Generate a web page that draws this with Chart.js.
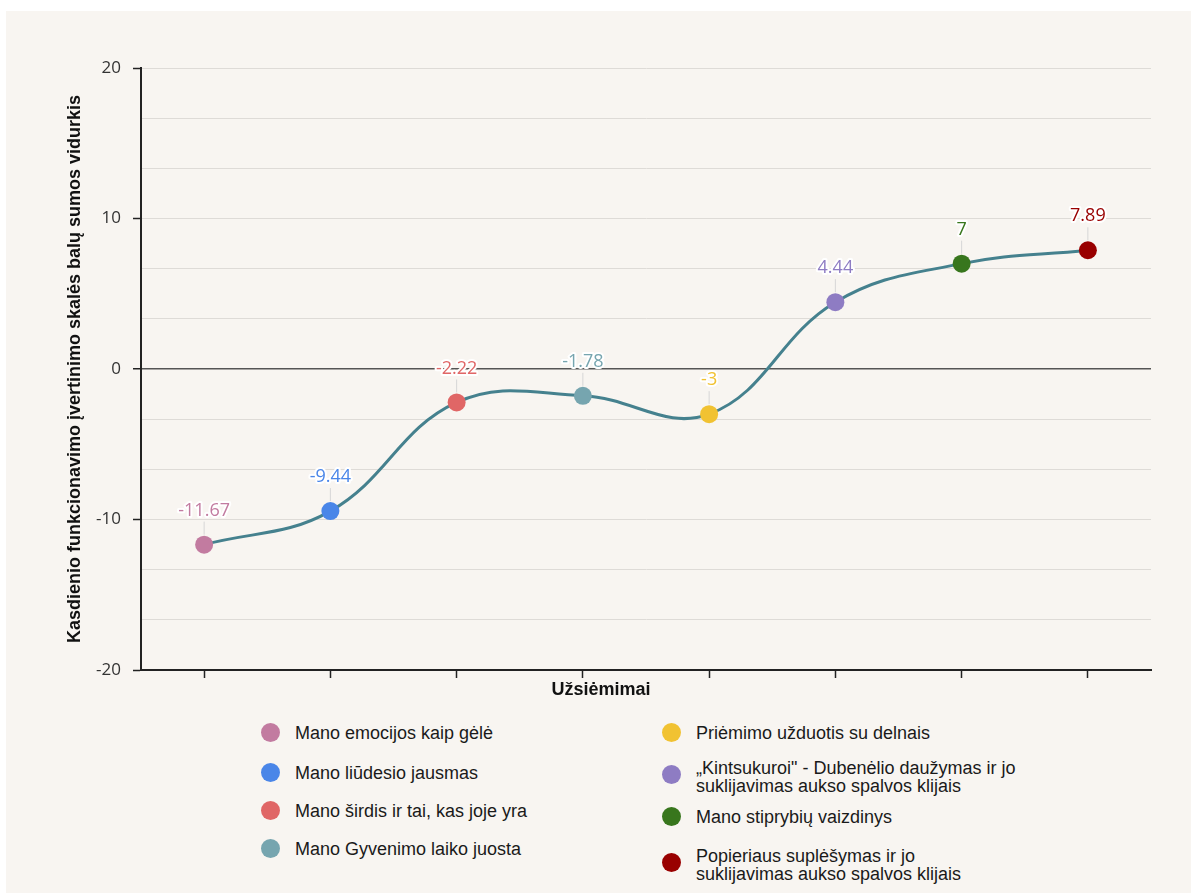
<!DOCTYPE html>
<html>
<head>
<meta charset="utf-8">
<script src="https://cdn.jsdelivr.net/npm/chart.js@4.4.1/dist/chart.umd.min.js"></script>
<style>
  html, body { margin: 0; padding: 0; background: #ffffff; }
  #panel {
    position: absolute; left: 6px; top: 11px; width: 1185px; height: 882px;
    background: #f8f5f1;
  }
  #chartBox { position: absolute; left: 0; top: 0; width: 1185px; height: 700px; }
  #xTitle {
    position: absolute; left: 525px; top: 668px; width: 140px; text-align: center;
    font: bold 18px "Liberation Sans", Arial, sans-serif; color: #111;
  }
  .legend-item {
    position: absolute; display: flex; align-items: flex-start;
    font: 18px "Liberation Sans", Arial, sans-serif; color: #1a1a1a; line-height: 18px;
  }
  .legend-item .dot {
    width: 19px; height: 19px; border-radius: 50%; flex: none; margin-right: 15px;
  }
</style>
</head>
<body>
<div id="panel">
  <div id="chartBox"><canvas id="lineChart"></canvas></div>
  <div id="xTitle">Užsiėmimai</div>
  <div id="legend"></div>
</div>
<script>
// Activities (x categories) and their mean scores
const activities = [
    'Mano emocijos kaip gėlė',
    'Mano liūdesio jausmas',
    'Mano širdis ir tai, kas joje yra',
    'Mano Gyvenimo laiko juosta',
    'Priėmimo užduotis su delnais',
    '„Kintsukuroi" - Dubenėlio daužymas ir jo suklijavimas aukso spalvos klijais',
    'Mano stiprybių vaizdinys',
    'Popieriaus suplėšymas ir jo suklijavimas aukso spalvos klijais'
];
const legendLines = [
    ['Mano emocijos kaip gėlė'],
    ['Mano liūdesio jausmas'],
    ['Mano širdis ir tai, kas joje yra'],
    ['Mano Gyvenimo laiko juosta'],
    ['Priėmimo užduotis su delnais'],
    ['„Kintsukuroi" - Dubenėlio daužymas ir jo', 'suklijavimas aukso spalvos klijais'],
    ['Mano stiprybių vaizdinys'],
    ['Popieriaus suplėšymas ir jo', 'suklijavimas aukso spalvos klijais']
];
const meanScores = [-11.67, -9.44, -2.22, -1.78, -3, 4.44, 7, 7.89];
const pointColors = ['#c27ba0', '#4a86e8', '#e06666', '#76a5af', '#f1c232', '#8e7cc3', '#38761d', '#990000'];
const yLabelTicks = [-20, -10, 0, 10, 20];
const yMin = -20;
const yMax = 20;

// Value labels with a small leader line above each point
const valueLabels = {
    id: 'valueLabels',
    afterDatasetsDraw(chart) {
        const ctx = chart.ctx;
        const meta = chart.getDatasetMeta(0);
        ctx.save();
        ctx.font = '18px "Open Sans", "Noto Sans", sans-serif';
        ctx.textAlign = 'center';
        ctx.textBaseline = 'middle';
        meta.data.forEach((pt, i) => {
            ctx.strokeStyle = '#d6d6d6';
            ctx.lineWidth = 1;
            ctx.beginPath();
            ctx.moveTo(pt.x, pt.y - 10);
            ctx.lineTo(pt.x, pt.y - 23);
            ctx.stroke();
            const txt = String(meanScores[i]);
            ctx.lineWidth = 4;
            ctx.lineJoin = 'round';
            ctx.strokeStyle = '#ffffff';
            ctx.strokeText(txt, pt.x, pt.y - 34);
            ctx.fillStyle = pointColors[i];
            ctx.fillText(txt, pt.x, pt.y - 34);
        });
        ctx.restore();
    }
};

const isLabelTick = v => yLabelTicks.some(t => Math.abs(t - v) < 1e-6);

new Chart(document.getElementById('lineChart'), {
    type: 'line',
    data: {
        labels: activities,
        datasets: [{
            data: meanScores,
            borderColor: '#45818e',
            borderWidth: 3,
            tension: 0.4,
            pointRadius: 9,
            pointHoverRadius: 9,
            pointBackgroundColor: pointColors,
            pointBorderColor: pointColors,
            pointBorderWidth: 0
        }]
    },
    options: {
        responsive: true,
        maintainAspectRatio: false,
        animation: false,
        layout: { padding: { top: 57, right: 40, left: 0, bottom: 0 } },
        plugins: {
            legend: { display: false },
            tooltip: { enabled: false }
        },
        scales: {
            x: {
                offset: true,
                afterFit: scale => { scale.height = 41; },
                border: { color: '#222', width: 2 },
                grid: { drawOnChartArea: false, tickLength: 8, tickColor: '#222', tickWidth: 1.5 },
                ticks: { callback: () => '' }
            },
            y: {
                min: yMin,
                max: yMax,
                afterFit: scale => { scale.width = 135; },
                afterBuildTicks: scale => {
                    const ticks = [];
                    for (let k = 0; k <= 12; k++) ticks.push({ value: yMin + k * (yMax - yMin) / 12 });
                    scale.ticks = ticks;
                },
                border: { color: '#222', width: 2 },
                grid: {
                    color: ctx => (Math.abs(ctx.tick.value) < 1e-6 ? '#555' : '#dedbd7'),
                    lineWidth: ctx => (Math.abs(ctx.tick.value) < 1e-6 ? 1.5 : 1),
                    tickColor: ctx => (isLabelTick(ctx.tick.value) ? '#222' : 'rgba(0,0,0,0)'),
                    tickLength: 8,
                    tickWidth: 1.5
                },
                ticks: {
                    padding: 12,
                    autoSkip: false,
                    color: '#333',
                    font: { family: '"Open Sans", "Noto Sans", sans-serif', size: 17 },
                    callback: v => (isLabelTick(v) ? String(Math.round(v)) : '')
                },
                title: {
                    display: true,
                    text: 'Kasdienio funkcionavimo įvertinimo skalės balų sumos vidurkis',
                    color: '#111',
                    font: { family: '"Liberation Sans", Arial, sans-serif', size: 18, weight: 'bold' },
                    padding: { top: 58, bottom: 0 }
                }
            }
        }
    },
    plugins: [valueLabels]
});

// HTML legend in two columns
const legendEl = document.getElementById('legend');
const legendPos = [
    [255, 713], [255, 753], [255, 791], [255, 829],
    [656, 713], [656, 748], [656, 797], [656, 836]
];
legendLines.forEach((lines, i) => {
    const item = document.createElement('div');
    item.className = 'legend-item';
    item.style.left = legendPos[i][0] + 'px';
    item.style.top = legendPos[i][1] + 'px';
    const dot = document.createElement('span');
    dot.className = 'dot';
    dot.style.background = pointColors[i];
    dot.style.marginTop = lines.length > 1 ? '6px' : '-1px';
    const text = document.createElement('span');
    text.innerHTML = lines.join('<br>');
    item.appendChild(dot);
    item.appendChild(text);
    legendEl.appendChild(item);
});
</script>
</body>
</html>
